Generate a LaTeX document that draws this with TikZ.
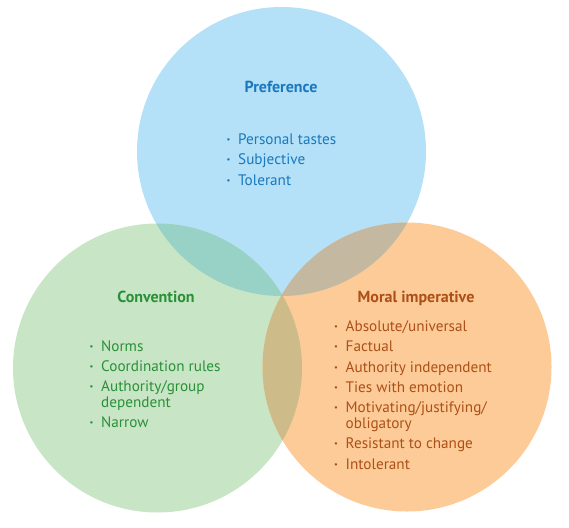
\documentclass[tikz,border=0pt]{standalone}
\usepackage{fontspec}
\setmainfont{PT Sans}
\usepackage{array}
\definecolor{cblue}{HTML}{B4E1F7}
\definecolor{cgreen}{HTML}{C8E5C5}
\definecolor{corange}{HTML}{FCCB98}
\definecolor{cbg}{HTML}{98D2C6}
\definecolor{cbo}{HTML}{C4B9A0}
\definecolor{cgo}{HTML}{CDBC89}
\definecolor{cbgo}{HTML}{B8B89A}
\definecolor{tblue}{HTML}{1A78BE}
\definecolor{tgreen}{HTML}{2A9038}
\definecolor{torange}{HTML}{AD5018}
\newcommand{\bul}{\raisebox{2.0pt}{\fontsize{8.5}{8.5}\selectfont •}}
\newcommand{\listfont}{\fontsize{15.2}{15.8}\selectfont}
\tikzset{
  title/.style={font=\fontsize{16}{18}\selectfont\bfseries, anchor=base, inner sep=0pt},
  itemlist/.style={font=\listfont, anchor=base west, inner sep=0pt, align=left},
}
\begin{document}
\begin{tikzpicture}[x=1pt,y=-1pt]
\useasboundingbox (0,0) rectangle (569,527);
\def\R{144.5}
\coordinate (cb) at (281.5,151.5);
\coordinate (cg) at (157.5,368);
\coordinate (co) at (407,367);
% base circles
\fill[cblue] (cb) circle (\R);
\fill[cgreen] (cg) circle (\R);
\fill[corange] (co) circle (\R);
% overlaps
\begin{scope}
  \clip (cb) circle (\R);
  \fill[cbg] (cg) circle (\R);
\end{scope}
\begin{scope}
  \clip (cb) circle (\R);
  \fill[cbo] (co) circle (\R);
\end{scope}
\begin{scope}
  \clip (cg) circle (\R);
  \fill[cgo] (co) circle (\R);
\end{scope}
\begin{scope}
  \clip (cg) circle (\R);
  \clip (co) circle (\R);
  \fill[cbgo] (cb) circle (\R);
\end{scope}
% titles
\node[title, text=tblue] (tpref) at (281,92.5) {Preference};
\node[title, text=tgreen] (tconv) at (156,302) {Convention};
\node[title, text=torange] (tmoral) at (416,302) {Moral imperative};
% lists
\node[itemlist, text=tblue] (lpref) at (226.5,144.5) {%
\begin{tabular}[t]{@{}p{11.5pt}@{}l@{}}
\bul & Personal tastes\\[4.5pt]
\bul & Subjective\\[4.5pt]
\bul & Tolerant
\end{tabular}};
\node[itemlist, text=tgreen] (lconv) at (89.5,351) {%
\begin{tabular}[t]{@{}p{11.5pt}@{}l@{}}
\bul & Norms\\[4.5pt]
\bul & Coordination rules\\[4.5pt]
\bul & Authority/group\\
     & dependent\\[4.5pt]
\bul & Narrow
\end{tabular}};
\node[itemlist, text=torange] (lmoral) at (334,331.5) {%
\begin{tabular}[t]{@{}p{11.5pt}@{}l@{}}
\bul & Absolute/universal\\[4.5pt]
\bul & Factual\\[4.5pt]
\bul & Authority independent\\[4.5pt]
\bul & Ties with emotion\\[4.5pt]
\bul & Motivating/justifying/\\
     & obligatory\\[4.5pt]
\bul & Resistant to change\\[4.5pt]
\bul & Intolerant
\end{tabular}};
\end{tikzpicture}
\end{document}
